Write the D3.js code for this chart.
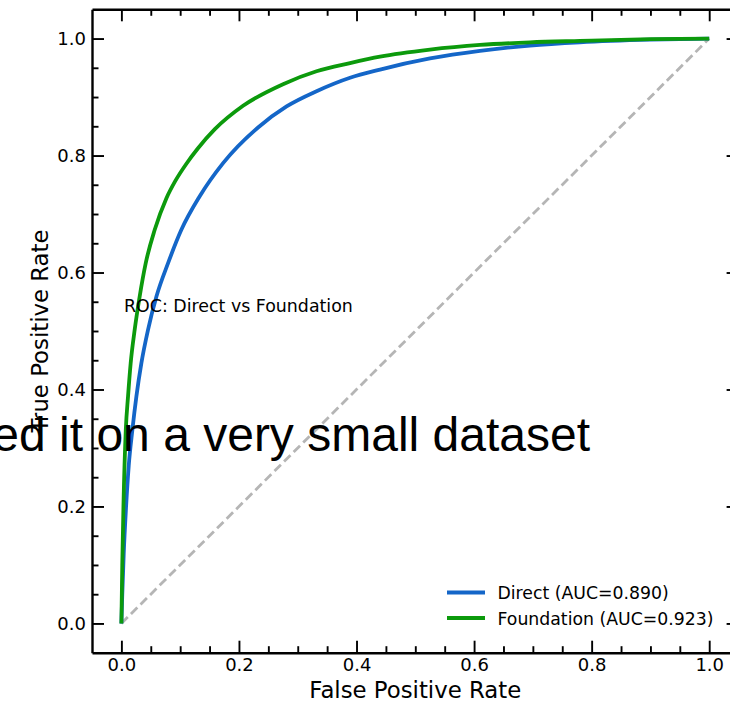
<!DOCTYPE html>
<html><head><meta charset="utf-8">
<script src="https://cdn.jsdelivr.net/npm/d3@7"></script>
<style>body{margin:0;background:#fff}svg{display:block}</style>
</head><body>
<svg id="c" width="730" height="702"></svg>
<script>
const fprDirect = [0,0.0015,0.004,0.008,0.0125,0.0187,0.0255,0.034,0.0453,0.0596,0.0794,0.102,0.133,0.173,0.2325,0.281,0.332,0.389,0.44,0.525,0.61,0.695,0.78,0.9,1];
const tprDirect = [0,0.05,0.12,0.2,0.27,0.331,0.388,0.445,0.502,0.559,0.616,0.673,0.730,0.787,0.848,0.884,0.910,0.933,0.947,0.966,0.979,0.988,0.9935,0.998,1];
const fprFoundation = [0,0.0015,0.0035,0.0075,0.0113,0.0158,0.0226,0.0311,0.0414,0.0567,0.0766,0.092,0.1106,0.130,0.159,0.207,0.275,0.332,0.389,0.44,0.525,0.61,0.695,0.78,0.9,1];
const tprFoundation = [0,0.1,0.2,0.331,0.388,0.445,0.502,0.559,0.616,0.673,0.727,0.757,0.786,0.812,0.845,0.885,0.922,0.944,0.958,0.969,0.981,0.989,0.9935,0.996,0.999,1];
const seriesNames = ["Direct (AUC=0.890)","Foundation (AUC=0.923)"];
const seriesColors = ["#1466c8","#0c9a0c"];
const majorTicks = [0,0.2,0.4,0.6,0.8,1.0];
const minorTicks = d3.range(0,21).map(i=>i*0.05);
const titleText = "ROC: Direct vs Foundation";
const overlayText = "ed it on a very small dataset";
const xLabel = "False Positive Rate", yLabel = "True Positive Rate";

const svg = d3.select("#c");
const x = d3.scaleLinear().domain([-0.05,1.05]).range([92,738.6]);
const y = d3.scaleLinear().domain([-0.05,1.05]).range([652.7,9.3]);
const fmt = d3.format(".1f");
const F = "DejaVu Sans";

svg.append("line").attr("x1",x(0)).attr("y1",y(0)).attr("x2",x(1)).attr("y2",y(1))
  .attr("stroke","#b5b5b5").attr("stroke-width",2.8).attr("stroke-dasharray","9,4.5");

const line = d3.line().x(d=>x(d[0])).y(d=>y(d[1])).curve(d3.curveMonotoneX);
const series = [d3.zip(fprDirect,tprDirect), d3.zip(fprFoundation,tprFoundation)];
series.forEach((s,i)=>{
  svg.append("path").datum(s).attr("d",line).attr("fill","none")
    .attr("stroke",seriesColors[i]).attr("stroke-width",3.8).attr("stroke-linejoin","round");
});

function styleAx(g){
  g.selectAll(".domain").attr("stroke","#000").attr("stroke-width",2.4);
  g.selectAll(".tick line").attr("stroke","#000").attr("stroke-width",1.9);
  g.selectAll("text").attr("font-family",F).attr("font-size",18).attr("fill","#000");
}
const minorOnly = minorTicks.filter(v=>!majorTicks.some(m=>Math.abs(m-v)<1e-9));
[[d3.axisBottom,y(-0.05),x],[d3.axisTop,y(1.05),x],[d3.axisLeft,x(-0.05),y],[d3.axisRight,x(1.05),y]].forEach(([ax,pos,sc])=>{
  const horiz = (ax===d3.axisBottom||ax===d3.axisTop);
  const g = svg.append("g").attr("transform",horiz?`translate(0,${pos})`:`translate(${pos},0)`)
    .call(ax(sc).tickValues(minorOnly).tickSize(-6.5).tickFormat(""));
  g.select(".domain").remove();
  styleAx(g);
});
const gb = svg.append("g").attr("transform",`translate(0,${y(-0.05)})`)
  .call(d3.axisBottom(x).tickValues(majorTicks).tickSizeInner(-12).tickSizeOuter(0).tickPadding(6).tickFormat(fmt));
styleAx(gb);
const gt = svg.append("g").attr("transform",`translate(0,${y(1.05)})`)
  .call(d3.axisTop(x).tickValues(majorTicks).tickSizeInner(-12).tickSizeOuter(0).tickFormat(""));
styleAx(gt);
const gl = svg.append("g").attr("transform",`translate(${x(-0.05)},0)`)
  .call(d3.axisLeft(y).tickValues(majorTicks).tickSizeInner(-12).tickSizeOuter(0).tickPadding(6).tickFormat(fmt));
styleAx(gl);
const gr = svg.append("g").attr("transform",`translate(${x(1.05)},0)`)
  .call(d3.axisRight(y).tickValues(majorTicks).tickSizeInner(-12).tickSizeOuter(0).tickFormat(""));
styleAx(gr);

svg.append("text").attr("x",124).attr("y",312).attr("font-family",F).attr("font-size",17.4).text(titleText);

seriesNames.forEach((n,i)=>{
  const yy = 592.5 + i*25.5;
  svg.append("line").attr("x1",447).attr("x2",485).attr("y1",yy).attr("y2",yy)
    .attr("stroke",seriesColors[i]).attr("stroke-width",3.8);
  svg.append("text").attr("x",497.5).attr("y",yy+6.5).attr("font-family",F).attr("font-size",17.3).text(n);
});

svg.append("text").attr("x",415.3).attr("y",698).attr("text-anchor","middle")
  .attr("font-family",F).attr("font-size",22.8).text(xLabel);
svg.append("text").attr("transform","translate(48,331) rotate(-90)").attr("text-anchor","middle")
  .attr("font-family",F).attr("font-size",22.8).text(yLabel);

svg.append("text").attr("x",590).attr("y",451).attr("text-anchor","end")
  .attr("font-family","Liberation Sans, Arial, sans-serif").attr("font-size",48).attr("fill","#000").text(overlayText);
</script>
</body></html>
